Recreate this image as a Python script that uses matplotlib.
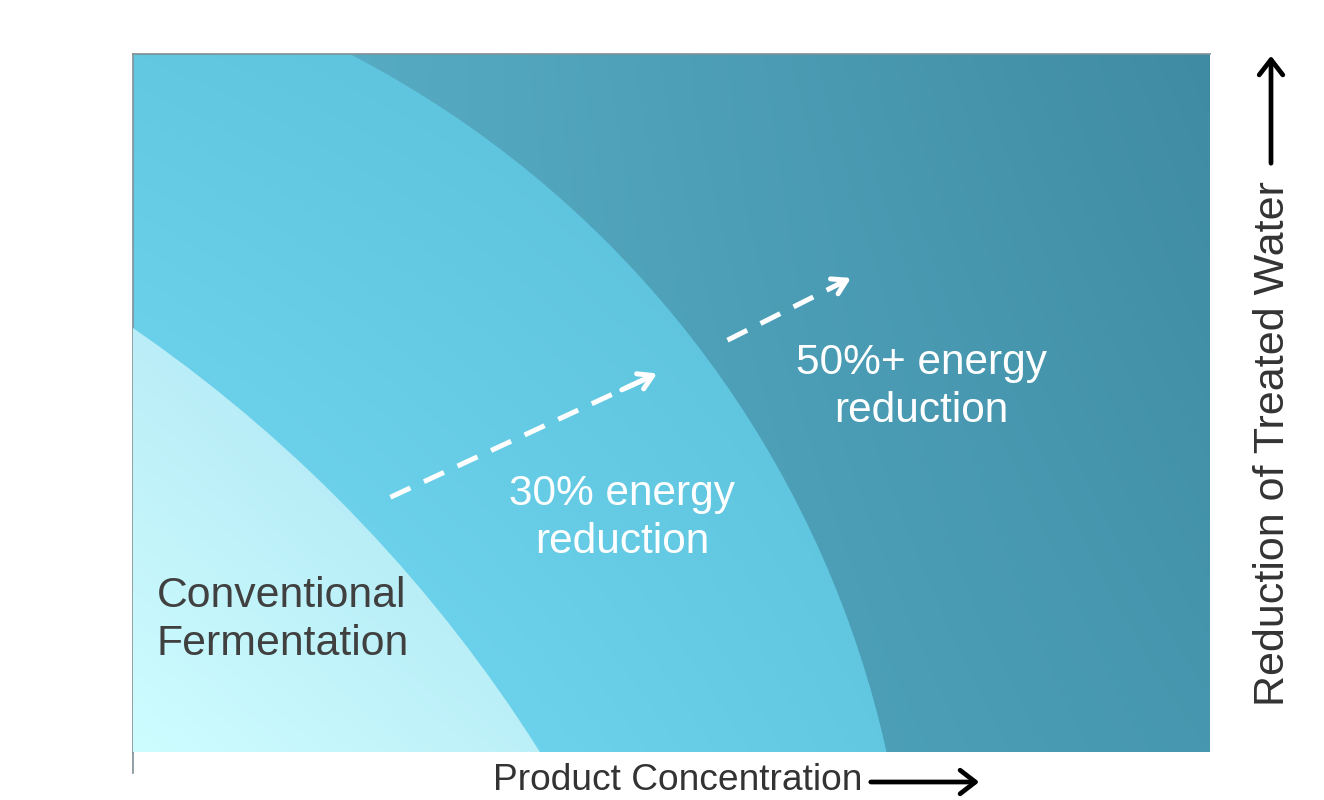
import numpy as np
import matplotlib
matplotlib.use('Agg')
import matplotlib.pyplot as plt
from matplotlib.patches import Ellipse
from matplotlib.colors import to_rgb

plt.rcParams['font.family'] = ['Liberation Sans', 'DejaVu Sans']

# zones are arcs of circles centred off the lower-left corner
# (x: product conc., y: water reduction, both 0-100 inside the frame)
inner_center = (-76.8, -111.3)
inner_size = (270.8, 417.8)     # full width / height in data units
mid_center = (-24.2, -32.2)
mid_size = (192.9, 297.7)

# dashed arrows (start, end)
arrow1 = [(23.9, 36.5), (48.9, 54.4)]
arrow2 = [(55.2, 59.0), (66.9, 68.1)]

labels = ['Conventional\nFermentation', '30% energy\nreduction', '50%+ energy\nreduction']
label_pos = [(2.2, 18.9), (45.4, 33.5), (73.2, 52.3)]
xlabel = 'Product Concentration'
ylabel = 'Reduction of Treated Water'


def gradient(bl, br, tl, tr, n=200):
	'''bilinear colour gradient from four corner colours'''
	u = np.linspace(0, 1, n)
	U, V = np.meshgrid(u, u)
	c = [np.array(to_rgb(k)) for k in (bl, br, tl, tr)]
	img = ((1-U)*(1-V))[..., None]*c[0] + (U*(1-V))[..., None]*c[1] \
		+ ((1-U)*V)[..., None]*c[2] + (U*V)[..., None]*c[3]
	return img


fig = plt.figure(figsize=(13.24, 8), dpi=100)
ax = fig.add_axes([133/1324, 48/800, 1077/1324, 698/800])
ax.set_xlim(0, 100)
ax.set_ylim(0, 100)

# outer zone (50%+)
ax.imshow(gradient('#58b2ca', '#4697af', '#5cb4cc', '#3f8ba3'),
		  extent=(0, 100, 0, 100), origin='lower', aspect='auto',
		  interpolation='bilinear', zorder=1)

# middle zone (30%)
mid_patch = Ellipse(mid_center, *mid_size, transform=ax.transData)
im = ax.imshow(gradient('#78dcf4', '#62c8e2', '#62c8e2', '#58bcd6'),
			   extent=(0, 70, 0, 100), origin='lower', aspect='auto',
			   interpolation='bilinear', zorder=2)
im.set_clip_path(mid_patch)

# inner zone (conventional)
inner_patch = Ellipse(inner_center, *inner_size, transform=ax.transData)
im = ax.imshow(gradient('#cefdff', '#bcf0f8', '#baedf7', '#a6e2f2'),
			   extent=(0, 38, 0, 61), origin='lower', aspect='auto',
			   interpolation='bilinear', zorder=3)
im.set_clip_path(inner_patch)

# dashed arrows
for (x0, y0), (x1, y1) in [arrow1, arrow2]:
	ax.plot([x0, x1 - (x1-x0)*0.06], [y0, y1 - (y1-y0)*0.06], color='white', lw=3.6,
			dashes=(4.4, 3), dash_capstyle='butt', zorder=5)
	ax.annotate('', xy=(x1, y1), xytext=(x1 - (x1-x0)*0.15, y1 - (y1-y0)*0.15),
				arrowprops=dict(arrowstyle='->,head_length=1.0,head_width=0.6',
								color='white', lw=3.6), zorder=5)

# zone labels
ax.text(*label_pos[0], labels[0], ha='left', va='center', fontsize=30.8,
		color='#404040', linespacing=1.25, zorder=6)
for k in (1, 2):
	ax.text(*label_pos[k], labels[k], ha='center', va='center', fontsize=30.5,
			color='white', multialignment='center', linespacing=1.25, zorder=6)

ax.set_xticks([])
ax.set_yticks([])
for s in ['right', 'bottom']:
	ax.spines[s].set_visible(False)
for s in ['top', 'left']:
	ax.spines[s].set_color('#7f9096')
	ax.spines[s].set_linewidth(1.2)
ax.plot([0, 0], [-0.03, 0], transform=ax.transAxes, color='#7f9096', lw=1.2,
		clip_on=False)

# axis labels with arrows
fig.text(493/1324, 1 - 781/800, xlabel, ha='left', va='center', fontsize=26.7,
		 color='#333333')
ax.annotate('', xy=(982/1324, 1 - 782/800), xytext=(868/1324, 1 - 782/800),
			xycoords='figure fraction', textcoords='figure fraction',
			arrowprops=dict(arrowstyle='->,head_length=1.1,head_width=0.85',
							color='black', lw=3.4))
fig.text(1273/1324, 1 - 444/800, ylabel, ha='center', va='center', rotation=90,
		 fontsize=31, color='#333333')
ax.annotate('', xy=(1271/1324, 1 - 53/800), xytext=(1271/1324, 1 - 166/800),
			xycoords='figure fraction', textcoords='figure fraction',
			arrowprops=dict(arrowstyle='->,head_length=1.1,head_width=0.85',
							color='black', lw=3.4))

plt.savefig('out.png', dpi=100)
